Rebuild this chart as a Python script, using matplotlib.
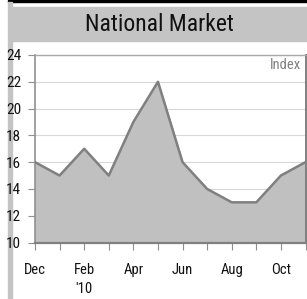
import matplotlib
matplotlib.use("Agg")
import matplotlib.pyplot as plt
from matplotlib import font_manager
from matplotlib.patches import Rectangle

# data
months = ["Dec", "Jan", "Feb", "Mar", "Apr", "May", "Jun", "Jul", "Aug", "Sep", "Oct", "Nov"]
index_values = [16, 15, 17, 15, 19, 22, 16, 14, 13, 13, 15, 16]
tick_labels = ["Dec", "", "Feb\n'10", "", "Apr", "", "Jun", "", "Aug", "", "Oct", ""]
y_ticks = [10, 12, 14, 16, 18, 20, 22, 24]

# narrow font if one is there
installed = {f.name for f in font_manager.fontManager.ttflist}
narrow = [n for n in ["Liberation Sans Narrow", "DejaVu Sans Condensed", "Roboto Condensed"]
          if n in installed]
plt.rcParams['font.family'] = narrow + ['Liberation Sans', 'DejaVu Sans']

W, H = 307, 299
fig = plt.figure(figsize=(W / 100, H / 100), dpi=100)
fig.patch.set_facecolor("white")

# frame decorations (pixel coords -> figure fraction)
def px(x0, y0, x1, y1, color):
    fig.patches.append(Rectangle((x0 / W, 1 - y1 / H), (x1 - x0) / W, (y1 - y0) / H,
                                 transform=fig.transFigure, color=color, zorder=-5))

px(8, 0, W, 2, "black")
px(8, 2, 11.5, H, "#c4c4c4")
px(11.5, 7, W, 41, "#c4c4c4")
fig.text((11.5 + W) / 2 / W, 1 - 24.5 / H, "National Market", ha="center", va="center",
         fontsize=17 if narrow else 15.5, color="#111111")

left, right, top, bottom = 35, 305.5, 55, 242.5
ax = fig.add_axes([left / W, 1 - bottom / H, (right - left) / W, (bottom - top) / H])
ax.set_zorder(2)
ax.patch.set_alpha(0)

x = list(range(len(months)))
ax.fill_between(x, 10, index_values, color="#c0c0c0", zorder=2)
ax.plot(x, index_values, color="#808080", lw=1.8, zorder=3)

ax.set_xlim(0, len(months) - 1)
ax.set_ylim(10, 24)
ax.set_yticks(y_ticks)
ax.set_yticklabels([str(v) for v in y_ticks])
ax.set_xticks(x)
ax.set_xticklabels(tick_labels, linespacing=1.45)
ax.tick_params(axis="y", length=5, width=0.8, color="#909090", pad=5, labelsize=11,
               labelcolor="#111111")
ax.tick_params(axis="x", length=5, width=0.8, color="#909090", pad=10, labelsize=10.5,
               labelcolor="#111111")

ax.grid(axis="y", color="#d8d8d8", lw=0.8, zorder=1)
ax.set_axisbelow(True)

ax.spines["left"].set_color("#909090")
ax.spines["left"].set_linewidth(1.2)
ax.spines["bottom"].set_color("#808080")
ax.spines["bottom"].set_linewidth(1.6)
ax.spines["right"].set_color("#808080")
ax.spines["right"].set_linewidth(1.4)
ax.spines["top"].set_color("#a8a8a8")
ax.spines["top"].set_linewidth(1.0)

ax.text(0.985, 0.985, "Index", transform=ax.transAxes, ha="right", va="top",
        fontsize=10.5, color="#808080")

fig.savefig("out.png", dpi=100)
